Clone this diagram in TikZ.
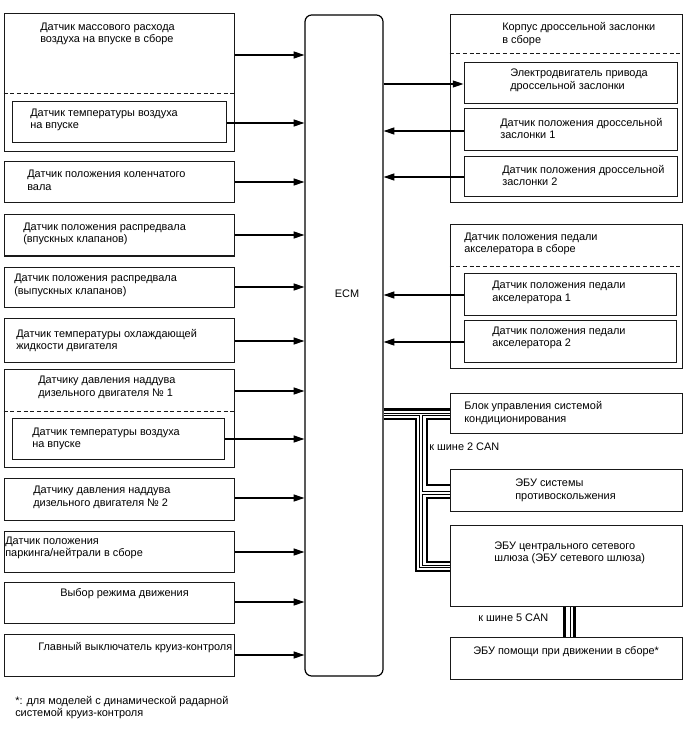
\documentclass[tikz,border=0pt]{standalone}
\usepackage{fontspec}
\setmainfont{Liberation Sans}
\usetikzlibrary{arrows.meta,fit}
\begin{document}
\begin{tikzpicture}[x=0.75pt,y=-0.75pt,
  box/.style={draw=black!90, line width=0.75pt, inner sep=0pt},
  sepline/.style={draw=black!90, line width=0.75pt, dash pattern=on 3pt off 2pt},
  lbl/.style={font=\fontsize{8.2}{9.4}\selectfont, align=left, inner sep=0pt, anchor=north west},
  arr/.style={line width=0.85pt, -{Triangle[length=8pt,width=5.2pt]}},
  thickbus/.style={line width=2pt},
  hollowbus/.style={line width=0.55pt, double=white, double distance=1.3pt}]
\useasboundingbox (0,0) rectangle (688,755);
% ECM
\node[box, draw=black, line width=0.9pt, rounded corners=5pt, fit={(305,15) (383,676)}] (ecm) {};
\node[font=\fontsize{8.2}{9.4}\selectfont, inner sep=0pt] (ecmlbl) at (347,294) {ECM};
% ---------- left column ----------
\node[box, fit={(4,14) (234,152)}] (b1) {};
\draw[sepline] (b1.west |- 0,94) -- (b1.east |- 0,94);
\node[box, fit={(12,102) (226,143)}] (b1i) {};
\node[lbl] (t1) at (40,22.5) {Датчик массового расхода\\воздуха на впуске в сборе};
\node[lbl] (t1i) at (30,108.5) {Датчик температуры воздуха\\на впуске};

\node[box, fit={(4,162) (234,203)}] (b2) {};
\node[lbl] (t2) at (27,170) {Датчик положения коленчатого\\вала};
\node[box, fit={(4,215) (234,256)}] (b3) {};
\node[lbl] (t3) at (23,222.5) {Датчик положения распредвала\\(впускных клапанов)};
\node[box, fit={(4,267) (234,307)}] (b4) {};
\node[lbl] (t4) at (14,274) {Датчик положения распредвала\\(выпускных клапанов)};
\node[box, fit={(4,318) (234,362)}] (b5) {};
\node[lbl] (t5) at (16,329) {Датчик температуры охлаждающей\\жидкости двигателя};

\node[box, fit={(4,369) (234,467)}] (b6) {};
\draw[sepline] (b6.west |- 0,411) -- (b6.east |- 0,411);
\node[box, fit={(12,418) (224,459)}] (b6i) {};
\node[lbl] (t6) at (38,376) {Датчику давления наддува\\дизельного двигателя № 1};
\node[lbl] (t6i) at (32,427.5) {Датчик температуры воздуха\\на впуске};

\node[box, fit={(4,478) (234,520)}] (b7) {};
\node[lbl] (t7) at (33,486) {Датчику давления наддува\\дизельного двигателя № 2};
\node[box, fit={(4,531) (234,572)}] (b8) {};
\node[lbl] (t8) at (5,536.5) {Датчик положения\\паркинга/нейтрали в сборе};
\node[box, fit={(4,582) (234,623)}] (b9) {};
\node[lbl] (t9) at (60,588) {Выбор режима движения};
\node[box, fit={(4,634) (234,676)}] (b10) {};
\node[lbl] (t10) at (38,642.5) {Главный выключатель круиз-контроля};

\node[lbl] (foot) at (15,696) {*: для моделей с динамической радарной\\системой круиз-контроля};

% left arrows
\draw[arr] (b1.east |- 0,55) -- (ecm.west |- 0,55);
\draw[arr] (b1i.east |- 0,123) -- (ecm.west |- 0,123);
\draw[arr] (b2.east |- 0,182) -- (ecm.west |- 0,182);
\draw[arr] (b3.east |- 0,235) -- (ecm.west |- 0,235);
\draw[arr] (b4.east |- 0,287) -- (ecm.west |- 0,287);
\draw[arr] (b5.east |- 0,341) -- (ecm.west |- 0,341);
\draw[arr] (b6.east |- 0,391) -- (ecm.west |- 0,391);
\draw[arr] (b6i.east |- 0,439) -- (ecm.west |- 0,439);
\draw[arr] (b7.east |- 0,498) -- (ecm.west |- 0,498);
\draw[arr] (b8.east |- 0,552) -- (ecm.west |- 0,552);
\draw[arr] (b9.east |- 0,602) -- (ecm.west |- 0,602);
\draw[arr] (b10.east |- 0,655) -- (ecm.west |- 0,655);

% ---------- right column ----------
\node[box, fit={(450,15) (682,203)}] (thr) {};
\draw[sepline] (thr.west |- 0,54) -- (thr.east |- 0,54);
\node[lbl] (tthr) at (502,22.5) {Корпус дроссельной заслонки\\в сборе};
\node[box, fit={(464,63) (677,104)}] (mot) {};
\node[lbl] (tmot) at (510,69) {Электродвигатель привода\\дроссельной заслонки};
\node[box, fit={(464,109) (677,151)}] (tp1) {};
\node[lbl] (ttp1) at (500,118) {Датчик положения дроссельной\\заслонки 1};
\node[box, fit={(464,157) (677,197)}] (tp2) {};
\node[lbl] (ttp2) at (502,165) {Датчик положения дроссельной\\заслонки 2};

\node[box, fit={(450,225) (682,368)}] (ped) {};
\draw[sepline] (ped.west |- 0,266) -- (ped.east |- 0,266);
\node[lbl] (tped) at (464,232.5) {Датчик положения педали\\акселератора в сборе};
\node[box, fit={(464,273) (676,315)}] (ap1) {};
\node[lbl] (tap1) at (492,281) {Датчик положения педали\\акселератора 1};
\node[box, fit={(464,320) (676,362)}] (ap2) {};
\node[lbl] (tap2) at (492,326.5) {Датчик положения педали\\акселератора 2};

\draw[arr] (ecm.east |- 0,84) -- (mot.west |- 0,84);
\draw[arr] (tp1.west |- 0,131) -- (ecm.east |- 0,131);
\draw[arr] (tp2.west |- 0,177) -- (ecm.east |- 0,177);
\draw[arr] (ap1.west |- 0,295) -- (ecm.east |- 0,295);
\draw[arr] (ap2.west |- 0,342) -- (ecm.east |- 0,342);

\node[box, fit={(450,393) (682,433)}] (ac) {};
\node[lbl] (tac) at (464,401.5) {Блок управления системой\\кондиционирования};
\node[box, fit={(450,469) (682,511)}] (abs) {};
\node[lbl] (tabs) at (515,479) {ЭБУ системы\\противоскольжения};
\node[box, fit={(450,525) (682,606)}] (gw) {};
\node[lbl] (tgw) at (494,541.5) {ЭБУ центрального сетевого\\шлюза (ЭБУ сетевого шлюза)};
\node[box, fit={(450,637) (682,679)}] (das) {};
\node[lbl] (tdas) at (473,646) {ЭБУ помощи при движении в сборе*};

\node[lbl] (can2) at (429,442.5) {к шине 2 CAN};
\node[lbl] (can5) at (478,614) {к шине 5 CAN};

% CAN 2 bus
\draw[thickbus] (ecm.east |- 0,409.7) -- (ac.west |- 0,409.7);
\draw[thickbus] (ecm.east |- 0,419) -| (416,571) -- (gw.west |- 0,571);
\draw[thickbus] (ac.west |- 0,419) -| (427,485) -- (abs.west |- 0,485);
\draw[thickbus] (abs.west |- 0,498) -| (427,562) -- (gw.west |- 0,562);
\draw[hollowbus] (ecm.east |- 0,414.5) -- (ac.west |- 0,414.5)
  (421,414.5) |- (gw.west |- 0,566.5)
  (421,493) -- (abs.west |- 0,493);
% CAN 5 bus
\draw[thickbus] (gw.south -| 564.2,0) -- (das.north -| 564.2,0);
\draw[thickbus] (gw.south -| 574.2,0) -- (das.north -| 574.2,0);
\draw[hollowbus] (gw.south -| 569.3,0) -- (das.north -| 569.3,0);
\end{tikzpicture}
\end{document}
